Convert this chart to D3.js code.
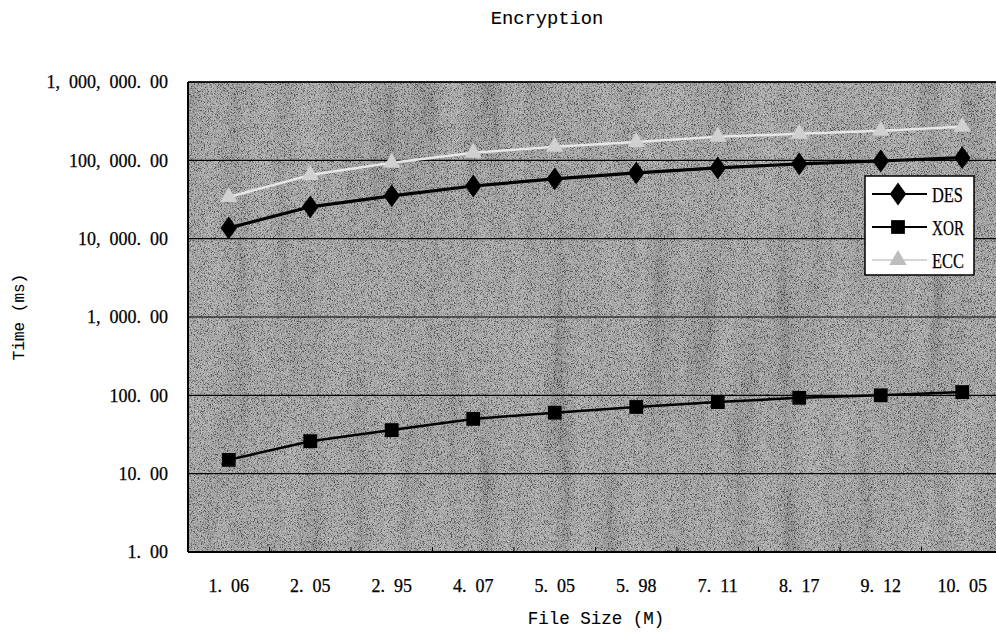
<!DOCTYPE html>
<html>
<head>
<meta charset="utf-8">
<script src="https://cdn.jsdelivr.net/npm/d3@7"></script>
<style>
  body { margin: 0; background: #fff; }
  text { fill: #000; }
  .mono { font-family: "Liberation Mono", "DejaVu Sans Mono", monospace; stroke: #000; stroke-width: 0.1px; }
  .serif { font-family: "Liberation Serif", "DejaVu Serif", serif; stroke: #000; stroke-width: 0.25px; }
</style>
</head>
<body>
<div class="board"></div>
<script>
var width = 996, height = 633

// plot box
var plot = { left: 188, top: 82, right: 1003, bottom: 552 }

// data
var fileSizes = ["1.06", "2.05", "2.95", "4.07", "5.05", "5.98", "7.11", "8.17", "9.12", "10.05"]
var desTimes = [13700, 25500, 35200, 47000, 58000, 69000, 80000, 90000, 98000, 108000]
var xorTimes = [15, 26, 36, 50, 60, 71, 82, 93, 100, 110]
var eccTimes = [34000, 65000, 93000, 125000, 149000, 172000, 200000, 218000, 238000, 268000]
var yTicks = [1, 10, 100, 1000, 10000, 100000, 1000000]
var seriesNames = ["DES", "XOR", "ECC"]

var svg = d3.select(".board")
    .append("svg")
    .attr("width", width)
    .attr("height", height)

var defs = svg.append("defs")

// scanned-looking grain for the plot area
var grain = defs.append("filter").attr("id", "grain")
    .attr("x", 0).attr("y", 0).attr("width", "100%").attr("height", "100%")
grain.append("feTurbulence")
    .attr("type", "fractalNoise")
    .attr("baseFrequency", 1.3)
    .attr("numOctaves", 1)
    .attr("seed", 4)
grain.append("feColorMatrix")
    .attr("type", "matrix")
    .attr("values", "3 0 0 0 -1  3 0 0 0 -1  3 0 0 0 -1  0 0 0 0 1")

var streaks = defs.append("filter").attr("id", "streaks")
    .attr("x", 0).attr("y", 0).attr("width", "100%").attr("height", "100%")
streaks.append("feTurbulence")
    .attr("type", "fractalNoise")
    .attr("baseFrequency", "0.04 0.004")
    .attr("numOctaves", 2)
    .attr("seed", 9)
streaks.append("feColorMatrix")
    .attr("type", "matrix")
    .attr("values", "2 0 0 0 -0.5  2 0 0 0 -0.5  2 0 0 0 -0.5  0 0 0 0 1")

var x = d3.scaleBand()
    .domain(fileSizes)
    .range([plot.left, plot.right])

var y = d3.scaleLog()
    .domain([1, 1000000])
    .range([plot.bottom, plot.top])

// background
function bgRect() {
    return svg.append("rect")
        .attr("x", plot.left).attr("y", plot.top)
        .attr("width", plot.right - plot.left).attr("height", plot.bottom - plot.top)
}
bgRect().attr("fill", "#8c8c8c")
bgRect().attr("filter", "url(#streaks)").attr("opacity", 0.14)
bgRect().attr("filter", "url(#grain)").attr("opacity", 0.4)

// gridlines
svg.selectAll(".grid")
    .data(yTicks)
    .enter()
    .append("line")
    .attr("x1", plot.left).attr("x2", plot.right)
    .attr("y1", d => y(d)).attr("y2", d => y(d))
    .attr("stroke", "#000")
    .attr("stroke-width", 1.2)

// frame
svg.append("line")
    .attr("x1", plot.left).attr("x2", plot.left)
    .attr("y1", plot.top).attr("y2", plot.bottom)
    .attr("stroke", "#000").attr("stroke-width", 2)
svg.append("line")
    .attr("x1", plot.left).attr("x2", plot.right)
    .attr("y1", plot.bottom).attr("y2", plot.bottom)
    .attr("stroke", "#000").attr("stroke-width", 2)
svg.append("line")
    .attr("x1", plot.left).attr("x2", plot.right)
    .attr("y1", plot.top).attr("y2", plot.top)
    .attr("stroke", "#000").attr("stroke-width", 1.5)

// wide gap after punctuation, like the original
var gap = s => s.replace(/,/g, ",\u2002").replace(".", ".\u2002")

// y axis labels
var fmt = d3.format(",.2f")
svg.selectAll(".ylab")
    .data(yTicks)
    .enter()
    .append("text")
    .attr("class", "serif")
    .attr("x", 168)
    .attr("y", d => y(d))
    .attr("dy", "0.35em")
    .attr("text-anchor", "end")
    .attr("font-size", 18)
    .text(d => gap(fmt(d)))

// x axis: ticks between categories, pointing up
svg.selectAll(".xtick")
    .data(fileSizes.slice(1))
    .enter()
    .append("line")
    .attr("x1", d => x(d)).attr("x2", d => x(d))
    .attr("y1", plot.bottom).attr("y2", plot.bottom - 5)
    .attr("stroke", "#000")

svg.selectAll(".xlab")
    .data(fileSizes)
    .enter()
    .append("text")
    .attr("class", "serif")
    .attr("x", d => x(d) + x.bandwidth() / 2)
    .attr("y", 592)
    .attr("text-anchor", "middle")
    .attr("font-size", 18)
    .text(d => gap(d))

// titles
svg.append("text")
    .attr("class", "mono")
    .attr("x", 547).attr("y", 24)
    .attr("text-anchor", "middle")
    .attr("font-size", 18.8)
    .text("Encryption")

svg.append("text")
    .attr("class", "mono")
    .attr("x", 596).attr("y", 624)
    .attr("text-anchor", "middle")
    .attr("font-size", 17.5)
    .text("File Size (M)")

svg.append("text")
    .attr("class", "mono")
    .attr("transform", "translate(24, 317) rotate(-90)")
    .attr("text-anchor", "middle")
    .attr("font-size", 16)
    .text("Time (ms)")

// series
var cx = d => x(d) + x.bandwidth() / 2
var series = [
    { name: "DES", values: desTimes, line: "#000", width: 3.2, marker: d3.symbolDiamond, size: 150, fill: "#000" },
    { name: "XOR", values: xorTimes, line: "#000", width: 2.5, marker: d3.symbolSquare, size: 190, fill: "#000" },
    { name: "ECC", values: eccTimes, line: "#e6e6e6", width: 2.5, marker: d3.symbolTriangle, size: 130, fill: "#d0d0d0" }
]

function appendSeries(s) {
    var pts = fileSizes.map((f, i) => [cx(f), y(s.values[i])])

    svg.append("path")
        .datum(pts)
        .attr("fill", "none")
        .attr("stroke", s.line)
        .attr("stroke-width", s.width)
        .attr("d", d3.line())

    svg.selectAll(".m-" + s.name)
        .data(pts)
        .enter()
        .append("path")
        .attr("d", d3.symbol().type(s.marker).size(s.size))
        .attr("transform", d => `translate(${d[0]}, ${d[1]})` + (s.marker == d3.symbolDiamond ? " scale(1.25, 1)" : ""))
        .attr("fill", s.fill)
}

series.forEach(appendSeries)

// legend
var legend = svg.append("g")
legend.append("rect")
    .attr("x", 865).attr("y", 176)
    .attr("width", 109).attr("height", 99)
    .attr("fill", "#fff")
    .attr("stroke", "#000")
    .attr("stroke-width", 1.5)

var legendY = d3.scalePoint()
    .domain(seriesNames)
    .range([194, 260])

series.forEach(s => {
    var ly = legendY(s.name)
    legend.append("line")
        .attr("x1", 872).attr("x2", 927)
        .attr("y1", ly).attr("y2", ly)
        .attr("stroke", s.name == "ECC" ? "#c8c8c8" : s.line)
        .attr("stroke-width", s.name == "ECC" ? 1.5 : 2)
    legend.append("path")
        .attr("d", d3.symbol().type(s.marker).size(s.size))
        .attr("transform", `translate(898, ${ly})` + (s.marker == d3.symbolDiamond ? " scale(1.25, 1)" : ""))
        .attr("fill", s.name == "ECC" ? "#bdbdbd" : s.fill)
    legend.append("text")
        .attr("class", "serif")
        .attr("x", 932).attr("y", ly)
        .attr("dy", "0.36em")
        .attr("font-size", 21)
        .attr("textLength", s.name == "DES" ? 31 : 32)
        .attr("lengthAdjust", "spacingAndGlyphs")
        .text(s.name)
})
</script>
</body>
</html>
